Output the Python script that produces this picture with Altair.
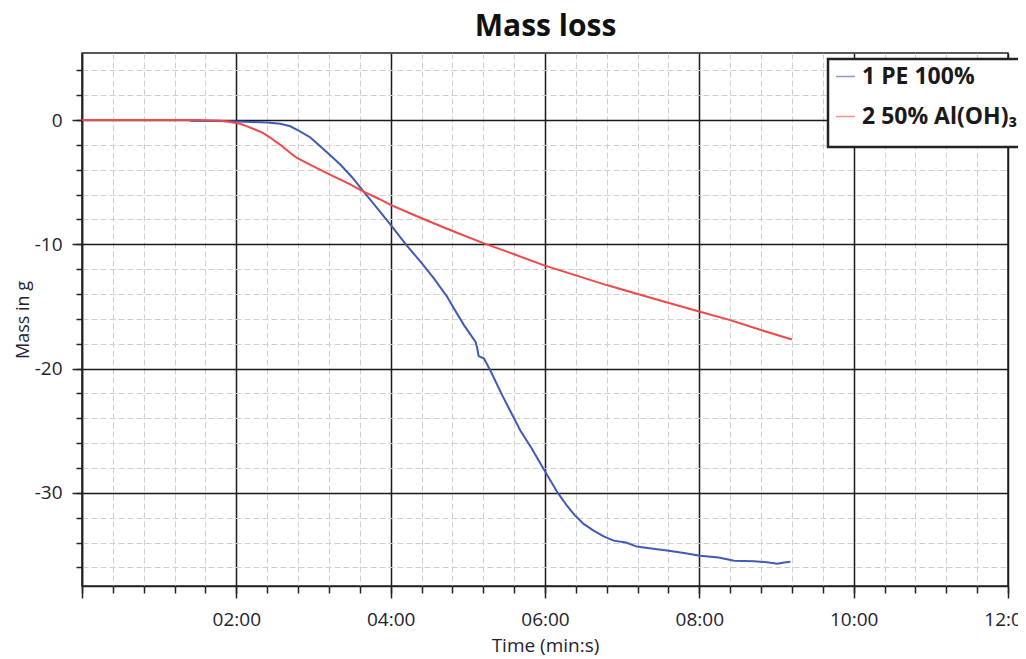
import altair as alt
import pandas as pd

# ---- data (time in minutes, mass in g) ----
pe_time = [1.40, 1.70, 1.92, 2.20, 2.40, 2.57, 2.70, 2.83, 2.96, 3.09, 3.22, 3.35, 3.50,
           3.65, 3.82, 4.00, 4.21, 4.40, 4.56, 4.73, 4.82, 4.95, 5.10, 5.12, 5.14, 5.21,
           5.29, 5.45, 5.59, 5.68, 5.83, 5.98, 6.16, 6.28, 6.39, 6.50, 6.63, 6.76, 6.89,
           7.05, 7.19, 7.40, 7.58, 7.80, 8.01, 8.25, 8.45, 8.70, 8.90, 9.01, 9.10, 9.18]
pe_mass = [-0.05, -0.08, -0.10, -0.15, -0.20, -0.30, -0.50, -0.92, -1.40, -2.13, -2.85,
           -3.60, -4.60, -5.76, -7.05, -8.44, -10.10, -11.50, -12.74, -14.20, -15.16,
           -16.50, -17.85, -18.30, -19.00, -19.20, -20.14, -22.20, -23.90, -24.98, -26.45,
           -28.06, -29.95, -31.00, -31.83, -32.50, -33.04, -33.50, -33.85, -34.00, -34.33,
           -34.50, -34.65, -34.85, -35.06, -35.20, -35.46, -35.50, -35.60, -35.70, -35.60,
           -35.54]

al_time = [0.00, 1.00, 1.50, 1.80, 1.92, 2.05, 2.14, 2.25, 2.35, 2.46, 2.57, 2.70, 2.79,
           2.88, 2.96, 3.09, 3.22, 3.45, 3.65, 3.85, 4.00, 4.25, 4.51, 4.85, 5.21, 5.60,
           5.98, 6.40, 6.80, 7.20, 7.63, 8.01, 8.40, 8.80, 9.20]
al_mass = [0.00, 0.00, 0.00, -0.05, -0.16, -0.30, -0.51, -0.78, -1.05, -1.50, -1.99,
           -2.65, -3.07, -3.35, -3.60, -4.00, -4.41, -5.10, -5.76, -6.35, -6.83, -7.50,
           -8.18, -9.05, -9.92, -10.80, -11.67, -12.50, -13.28, -14.00, -14.76, -15.43,
           -16.10, -16.90, -17.66]

series_names = ["1 PE 100%", "2 50% Al(OH)₃"]
series_colors = ["#3f5bb5", "#f04848"]
chart_title = "Mass loss"

x_major = [0, 2, 4, 6, 8, 10, 12]
x_minor = [round(i * 0.4, 1) for i in range(31)]
y_major = [0, -10, -20, -30]
y_minor = [4, 2, 0, -2, -4, -6, -8, -10, -12, -14, -16, -18, -20, -22, -24, -26,
           -28, -30, -32, -34, -36]

df = pd.concat([
    pd.DataFrame({"t": pe_time, "m": pe_mass, "s": series_names[0]}),
    pd.DataFrame({"t": al_time, "m": al_mass, "s": series_names[1]}),
], ignore_index=True)

FONT = "Open Sans"
INK = "#1e2230"

x_scale = alt.Scale(domain=[0, 12], nice=False, zero=False)
y_scale = alt.Scale(domain=[-37.5, 5.4], nice=False, zero=False)

# minor (dashed) grid and short ticks
minor = alt.Chart(df).mark_line(opacity=0).encode(
    x=alt.X("t:Q", scale=x_scale, axis=alt.Axis(
        values=x_minor, orient="bottom", labels=False, title=None, domain=False,
        grid=True, gridColor="#cfcfcf", gridDash=[6, 3], gridWidth=1,
        ticks=True, tickSize=7, tickColor="#222", tickWidth=1.5)),
    y=alt.Y("m:Q", scale=y_scale, axis=alt.Axis(
        values=y_minor, orient="left", labels=False, title=None, domain=False,
        grid=True, gridColor="#cfcfcf", gridDash=[6, 3], gridWidth=1,
        ticks=True, tickSize=6, tickColor="#222", tickWidth=1.5)),
    detail="s:N",
)

# top axis that only carries the chart heading
heading = alt.Chart(df).mark_line(opacity=0).encode(
    x=alt.X("t:Q", scale=x_scale, axis=alt.Axis(
        values=[], orient="top", labels=False, ticks=False, domain=False, grid=False,
        title=chart_title, titleFont=FONT, titleFontSize=30, titleFontWeight="bold",
        titleColor="#111", titleBaseline="alphabetic", titlePadding=18)),
    y=alt.Y("m:Q", scale=y_scale, axis=None),
    detail="s:N",
)

major = alt.Chart(df).mark_line(strokeWidth=2).encode(
    x=alt.X("t:Q", scale=x_scale, axis=alt.Axis(
        values=x_major, orient="bottom", title="Time (min:s)",
        labelExpr="datum.value == 0 ? '' : (datum.value < 10 ? '0' : '') + datum.value + ':00'",
        grid=True, gridColor="#1a1a1a", gridWidth=1.5,
        ticks=True, tickSize=12, tickColor="#222", tickWidth=1.5,
        domain=True, domainColor="#222", domainWidth=1.5,
        labelFont=FONT, labelFontSize=19, labelColor=INK, labelPadding=12,
        labelOverlap=False, labelFlush=False,
        titleFont=FONT, titleFontSize=19, titleFontWeight="normal", titleColor=INK,
        titlePadding=7)),
    y=alt.Y("m:Q", scale=y_scale, axis=alt.Axis(
        values=y_major, orient="left", title="Mass in g",
        labelExpr="'' + datum.value",
        grid=True, gridColor="#1a1a1a", gridWidth=1.5,
        ticks=True, tickSize=10, tickColor="#222", tickWidth=1.5,
        domain=True, domainColor="#222", domainWidth=1.5,
        labelFont=FONT, labelFontSize=19, labelColor=INK, labelPadding=10,
        titleFont=FONT, titleFontSize=18, titleFontWeight="normal", titleColor=INK,
        titlePadding=2)),
    color=alt.Color("s:N", scale=alt.Scale(domain=series_names, range=series_colors),
                    legend=alt.Legend(
                        orient="none", legendX=746, legendY=6,
                        title=" ", titleOrient="bottom", titleFontSize=8, titlePadding=4,
                        symbolType="stroke", symbolSize=361, symbolStrokeWidth=1.5,
                        symbolOpacity=0.6, labelFont=FONT, labelFontSize=23,
                        labelFontWeight="bold", labelColor="#1a1a1a", labelOffset=5,
                        rowPadding=16, padding=6, strokeColor="#222",
                        fillColor="white", labelLimit=400)),
)

chart = alt.layer(minor, heading, major).resolve_axis(
    x="independent", y="independent"
).properties(
    width=926, height=533,
    autosize=alt.AutoSizeParams(type="none"),
    padding={"left": 74, "top": 45, "right": 10, "bottom": 71},
).configure_view(
    stroke="#222", strokeWidth=1.5
).configure_legend(
    strokeWidth=2.5
)

chart.save("out.html", embed_options={"renderer": "svg", "actions": False})
